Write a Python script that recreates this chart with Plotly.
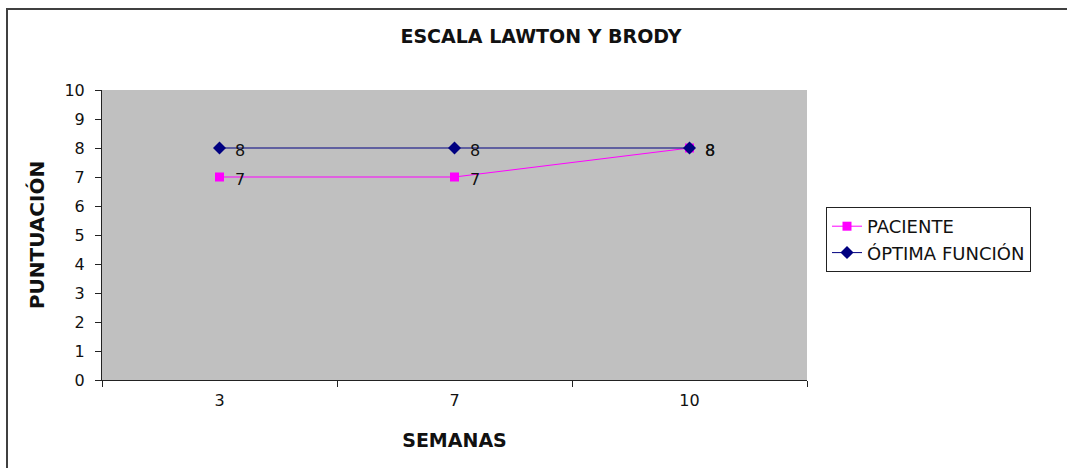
import plotly.graph_objects as go

weeks = ["3", "7", "10"]
paciente = [7, 7, 8]
optima = [8, 8, 8]

FONT = "DejaVu Sans"
W, H = 1067, 468
L, R, T, B = 102, 260, 90, 88
pw, ph = W - L - R, H - T - B

def px_x(p):
    return (p - L) / pw

def px_y(p):
    return (H - B - p) / ph

fig = go.Figure()
fig.add_trace(go.Scatter(
    x=weeks, y=paciente, name="PACIENTE",
    mode="lines+markers",
    line=dict(color="#FF00FF", width=1),
    marker=dict(symbol="square", size=9, color="#FF00FF"),
))
fig.add_trace(go.Scatter(
    x=weeks, y=optima, name="ÓPTIMA FUNCIÓN",
    mode="lines+markers",
    line=dict(color="#000080", width=1),
    marker=dict(symbol="diamond", size=10, color="#000080"),
))

# value labels to the right of each point (category index positions)
for series in (paciente, optima):
    for i, v in enumerate(series):
        fig.add_annotation(x=i, y=v, xref="x", yref="y", text=str(v),
                           showarrow=False, xanchor="left", xshift=13, yshift=-2,
                           font=dict(family=FONT, size=16, color="#111111"))

# outer chart frame
fig.add_shape(type="rect", xref="paper", yref="paper",
              x0=px_x(7), x1=px_x(1080), y0=px_y(480), y1=px_y(9),
              line=dict(color="#404040", width=2), layer="below")

fig.update_layout(
    width=W, height=H,
    margin=dict(l=L, r=R, t=T, b=B),
    paper_bgcolor="white",
    plot_bgcolor="#C0C0C0",
    font=dict(family=FONT, size=16, color="#111111"),
    hovermode=False,
    showlegend=True,
    title=dict(text="<b>ESCALA LAWTON Y BRODY</b>", x=541 / W, xanchor="center",
               y=1 - 36 / H, yanchor="middle",
               font=dict(family=FONT, size=19, color="#111111")),
    legend=dict(x=px_x(826), y=px_y(207), xanchor="left", yanchor="top",
                bordercolor="#222222", borderwidth=1, bgcolor="white",
                font=dict(family=FONT, size=18, color="#111111"),
                tracegroupgap=0, itemwidth=30),
    xaxis=dict(type="category", range=[-0.5, 2.5], tickson="boundaries",
               ticks="outside", ticklen=6, tickcolor="#222222",
               showline=True, linecolor="#222222", linewidth=1,
               showgrid=False, zeroline=False, ticklabelstandoff=6,
               tickfont=dict(family=FONT, size=16),
               title=dict(text="<b>SEMANAS</b>", standoff=24,
                          font=dict(family=FONT, size=19))),
    yaxis=dict(range=[0, 10], dtick=1, ticks="outside", ticklen=6,
               tickcolor="#222222", showline=True, linecolor="#222222",
               linewidth=1, showgrid=False, zeroline=False, ticklabelstandoff=7,
               tickfont=dict(family=FONT, size=16),
               title=dict(text="<b>PUNTUACIÓN</b>", standoff=14,
                          font=dict(family=FONT, size=20))),
)

fig.write_html("out.html")
